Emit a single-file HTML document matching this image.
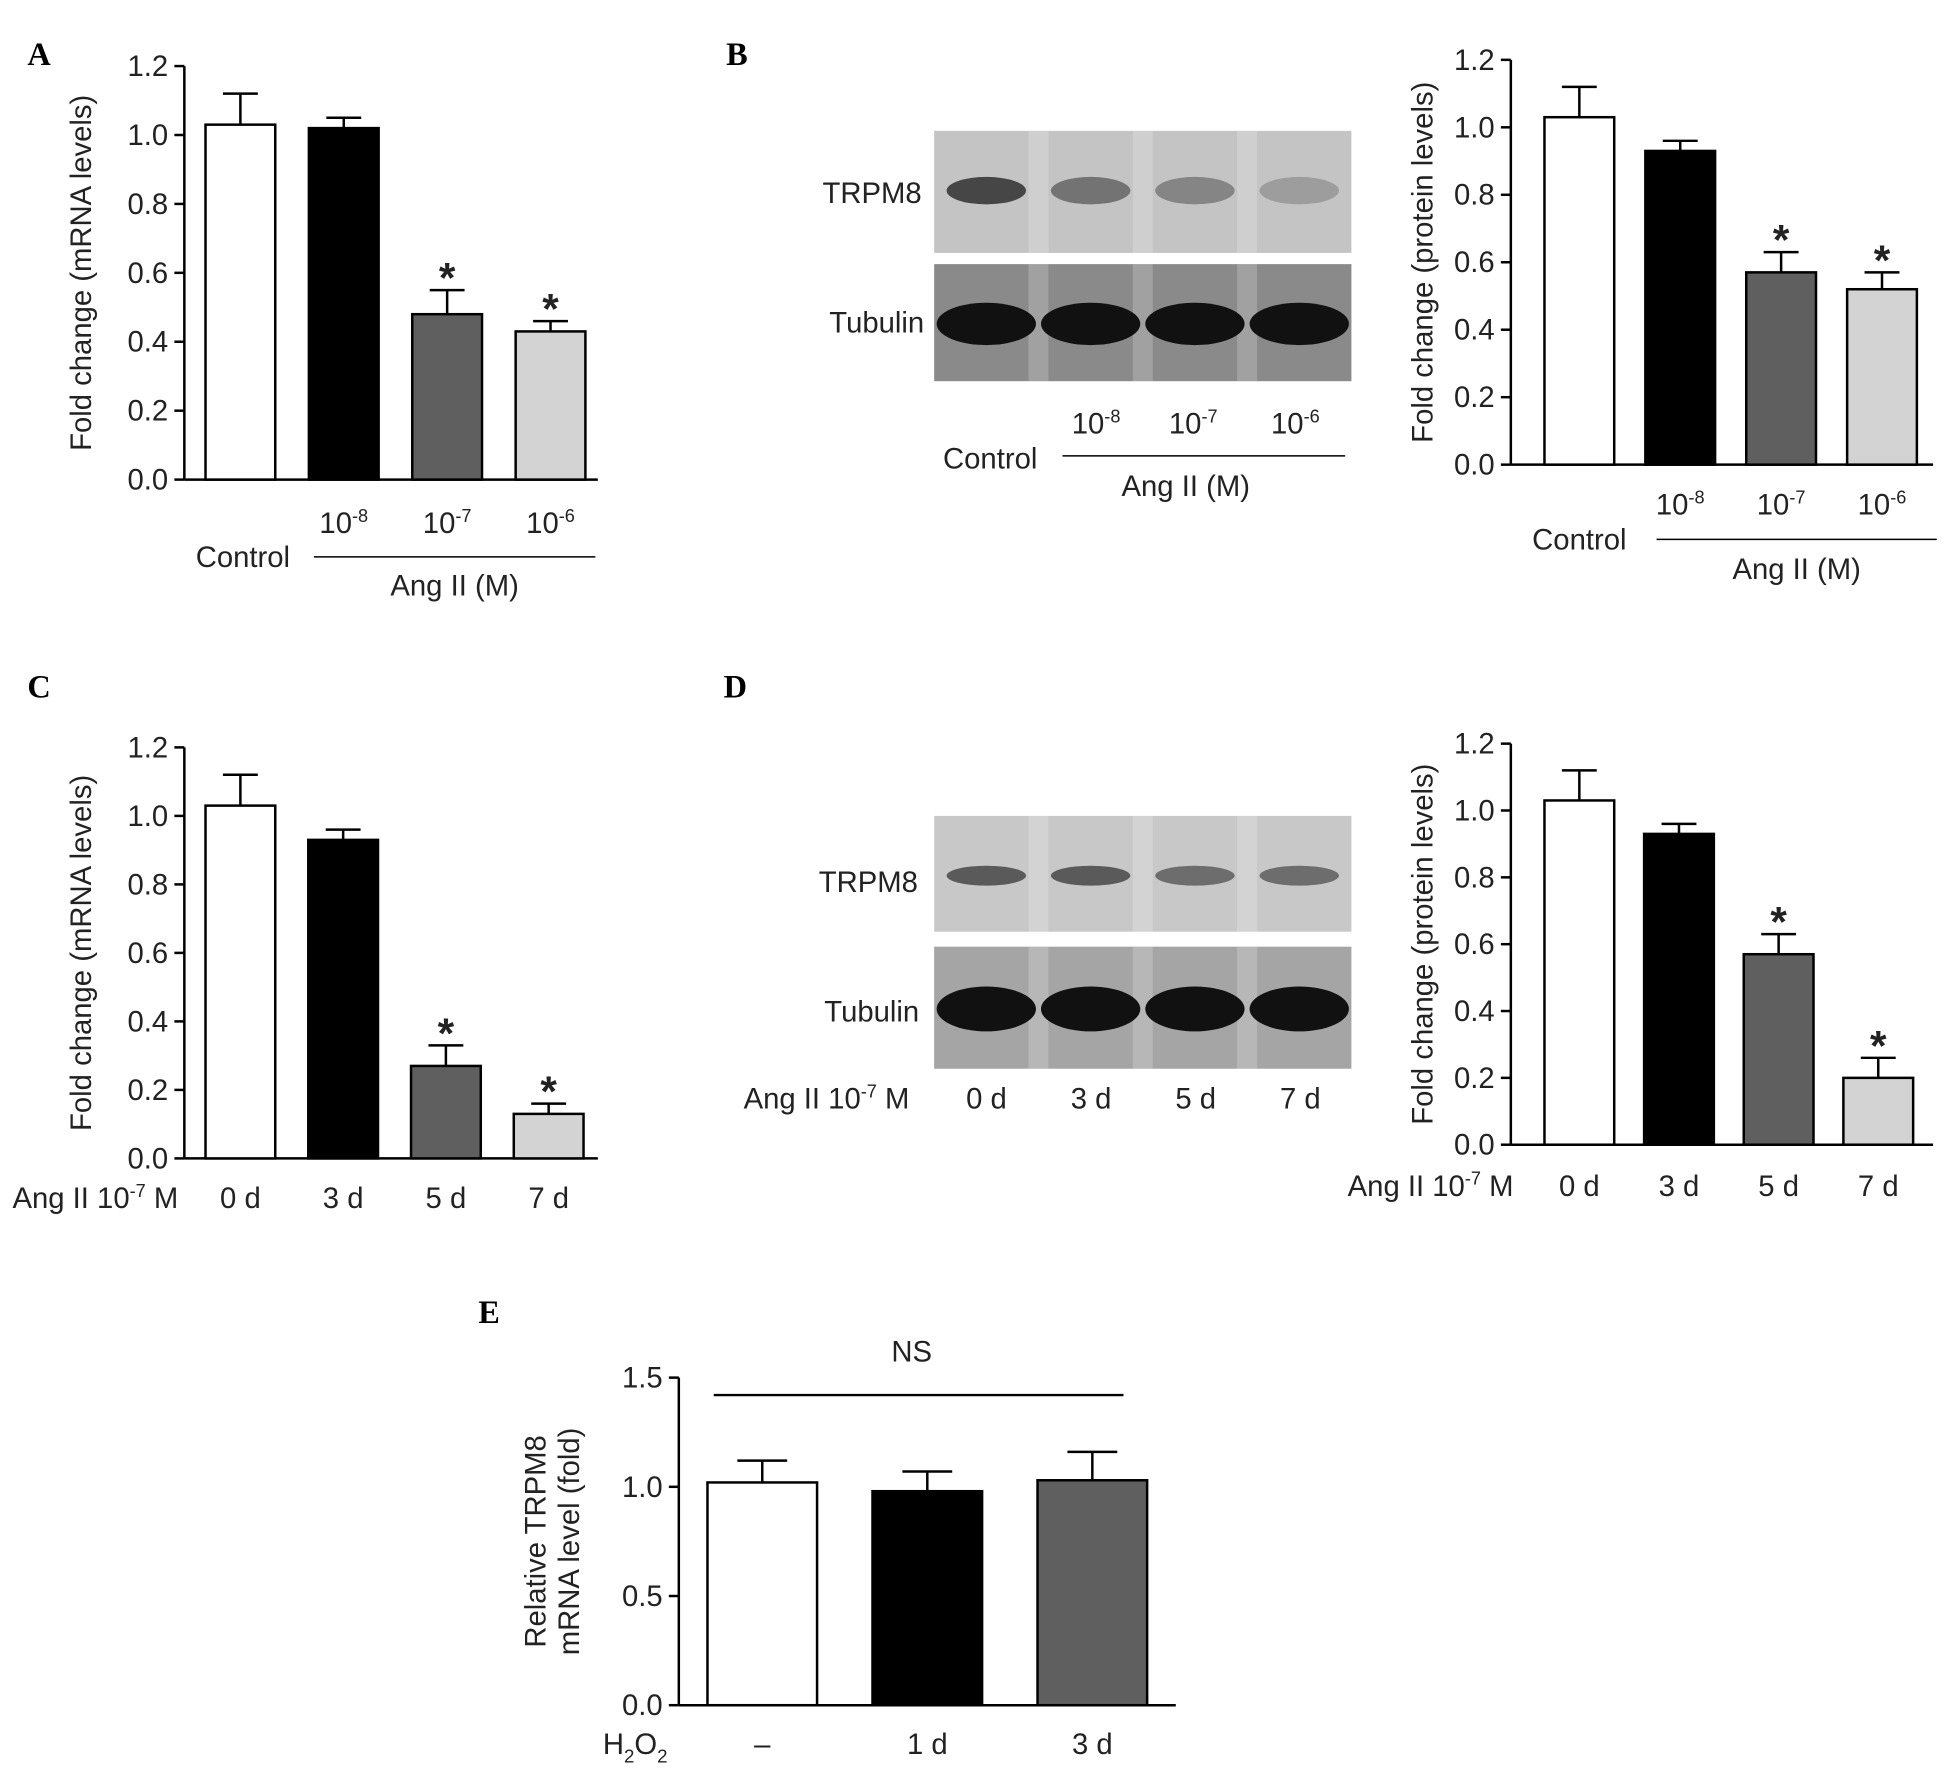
<!DOCTYPE html>
<html><head><meta charset="utf-8"><style>
html,body{margin:0;padding:0;background:#fff}
svg{display:block}
text{font-family:"Liberation Sans",Arial,sans-serif;fill:#222}
.pl{font-family:"Liberation Serif",serif;font-weight:bold;font-size:26px;fill:#000}
</style></head><body>
<svg id="fig" width="1953" height="1780" viewBox="0 0 1568 1429" xmlns="http://www.w3.org/2000/svg">
<text class="pl" x="22" y="52">A</text>
<text class="pl" x="583" y="52">B</text>
<text class="pl" x="22" y="560">C</text>
<text class="pl" x="581" y="560">D</text>
<text class="pl" x="384" y="1062">E</text>
<g id="blots"></g>
<g id="charts"></g>
</svg>
<script>
// ---- data ----
const catsAB = ["Control","10-8","10-7","10-6"];
const catsCD = ["0 d","3 d","5 d","7 d"];
const catsE = ["–","1 d","3 d"];
const valsA = [1.03,1.02,0.48,0.43];
const errA = [0.09,0.03,0.07,0.03];
const sigA = [false,false,true,true];
const valsB = [1.03,0.93,0.57,0.52];
const errB = [0.09,0.03,0.06,0.05];
const sigB = [false,false,true,true];
const valsC = [1.03,0.93,0.27,0.13];
const errC = [0.09,0.03,0.06,0.03];
const sigC = [false,false,true,true];
const valsD = [1.03,0.93,0.57,0.20];
const errD = [0.09,0.03,0.06,0.06];
const sigD = [false,false,true,true];
const valsE = [1.02,0.98,1.03];
const errE = [0.10,0.09,0.13];
const ticks12 = [0,0.2,0.4,0.6,0.8,1.0,1.2];
const ticks15 = [0,0.5,1.0,1.5];

const NS="http://www.w3.org/2000/svg";
const FS=23.5;
const charts=document.getElementById('charts');
function mk(tag,attrs,parent,txt){const e=document.createElementNS(NS,tag);for(const k in attrs)e.setAttribute(k,attrs[k]);if(txt!==undefined)e.textContent=txt;(parent||charts).appendChild(e);return e;}
const fills4=["#fff","#000","#5f5f5f","#d3d3d3"];

function chart(o){
  const g=mk('g',{});
  
  
  const y=v=>o.y0-(v/o.max)*(o.y0-o.ytop);
  const ax=mk('line',{x1:o.ax,y1:o.ytop,x2:o.ax,y2:o.y0,stroke:'#000','stroke-width':2},g);
  
  const xa=mk('line',{x1:o.ax,y1:o.y0,x2:o.xend,y2:o.y0,stroke:'#000','stroke-width':2},g);
  
  o.ticks.forEach(t=>{
    mk('line',{x1:o.ax-8,y1:y(t),x2:o.ax,y2:y(t),stroke:'#000','stroke-width':2},g);
    const tl=mk('text',{x:o.ax-13,y:y(t)+8,'text-anchor':'end','font-size':FS},g,t.toFixed(1));
    
  });
  const yt=mk('text',{transform:`translate(${o.ytx},${(o.ytop+o.y0)/2}) rotate(-90)`,'text-anchor':'middle','font-size':FS},g);
  
  o.ytitle.forEach((s,i)=>mk('tspan',{x:0,dy:i?27:0},yt,s));
  o.vals.forEach((v,i)=>{
    const x=o.x0+i*o.step, cx=x+o.bw/2;
    const top=y(v), et=y(v+o.err[i]);
    mk('line',{x1:cx,y1:et,x2:cx,y2:top,stroke:'#000','stroke-width':2},g);
    mk('line',{x1:cx-o.cap,y1:et,x2:cx+o.cap,y2:et,stroke:'#000','stroke-width':2},g);
    const b=mk('rect',{x:x,y:top,width:o.bw,height:o.y0-top,fill:o.fills[i],stroke:'#000','stroke-width':2},g);
    
    if(o.sig&&o.sig[i]){const s=mk('text',{x:cx,y:et+2,'text-anchor':'middle','font-size':34,'font-weight':'bold'},g,'*');
      }
  });
  return {g,y,cx:i=>o.x0+i*o.step+o.bw/2};
}
function sup(g,x,y,base,exp,size,anchor,after){
  const t=mk('text',{x:x,y:y,'font-size':size,'text-anchor':anchor||'middle'},g);
  mk('tspan',{},t,base);mk('tspan',{dy:-9,'font-size':size*0.62},t,exp);
  if(after) mk('tspan',{dy:9},t,after);
  
  return t;
}
function angLabels(g,c,yexp,ytitle,lineY,lineX1,lineX2,ctrlX){
  const ex=["-8","-7","-6"];
  for(let i=1;i<4;i++) sup(g,c.cx(i),yexp,"10",ex[i-1],FS);
  const ct=mk('text',{x:ctrlX,y:lineY+8,'text-anchor':'middle','font-size':FS},g,'Control');
  
  mk('line',{x1:lineX1,y1:lineY,x2:lineX2,y2:lineY,stroke:'#000','stroke-width':1.2},g);
  const at=mk('text',{x:(lineX1+lineX2)/2,y:ytitle,'text-anchor':'middle','font-size':FS},g,'Ang II (M)');
  
}

// A
let c=chart({name:'chart-a',ax:148,y0:385,ytop:53,max:1.2,xend:480,ticks:ticks12,vals:valsA,err:errA,sig:sigA,x0:165,step:83,bw:56,cap:14,fills:fills4,ytx:73,ytitle:['Fold change (mRNA levels)']});
angLabels(c.g,c,428,478,447,252,478,195);
// B
c=chart({name:'chart-b',ax:1213,y0:373,ytop:48,max:1.2,xend:1552,ticks:ticks12,vals:valsB,err:errB,sig:sigB,x0:1240,step:81,bw:56,cap:14,fills:fills4,ytx:1150,ytitle:['Fold change (protein levels)']});
angLabels(c.g,c,413,465,433,1330,1555,1268);
// C
c=chart({name:'chart-c',ax:148,y0:930,ytop:600,max:1.2,xend:480,ticks:ticks12,vals:valsC,err:errC,sig:sigC,x0:165,step:82.5,bw:56,cap:14,fills:fills4,ytx:73,ytitle:['Fold change (mRNA levels)']});
catsCD.forEach((s,i)=>{const t=mk('text',{x:c.cx(i),y:970,'text-anchor':'middle','font-size':FS},c.g,s);});
sup(c.g,10,970,"Ang II 10","-7",FS,'start',' M');
// D
c=chart({name:'chart-d',ax:1213,y0:919,ytop:597,max:1.2,xend:1552,ticks:ticks12,vals:valsD,err:errD,sig:sigD,x0:1240,step:80,bw:56,cap:14,fills:fills4,ytx:1150,ytitle:['Fold change (protein levels)']});
catsCD.forEach((s,i)=>{const t=mk('text',{x:c.cx(i),y:960,'text-anchor':'middle','font-size':FS},c.g,s);});
sup(c.g,1082,960,"Ang II 10","-7",FS,'start',' M');
// E
c=chart({name:'chart-e',ax:545,y0:1369,ytop:1106,max:1.5,xend:944,ticks:ticks15,vals:valsE,err:errE,x0:568,step:132.5,bw:88,cap:20,fills:["#fff","#000","#5f5f5f"],ytx:438,ytitle:['Relative TRPM8','mRNA level (fold)']});
catsE.forEach((s,i)=>{const t=mk('text',{x:c.cx(i),y:1408,'text-anchor':'middle','font-size':FS},c.g,s);});
const h=mk('text',{x:484,y:1408,'font-size':FS},c.g);mk('tspan',{},h,'H');mk('tspan',{dy:7,'font-size':15},h,'2');mk('tspan',{dy:-7},h,'O');mk('tspan',{dy:7,'font-size':15},h,'2');
mk('line',{x1:573,y1:1120,x2:902,y2:1120,stroke:'#000','stroke-width':2},c.g);
const ns=mk('text',{x:732,y:1093,'text-anchor':'middle','font-size':FS},c.g,'NS');


// ---- blots ----
const blots=document.getElementById('blots');
function blot(name,x,y,w,h,bg,lanes,bandY,bandH,intens,dark){
  const g=mk('g',{},blots);
  
  mk('rect',{x:x,y:y,width:w,height:h,fill:bg},g);
  const lw=w/4;
  for(let i=1;i<4;i++) mk('rect',{x:x+i*lw-8,y:y,width:16,height:h,fill:'#fff',opacity:0.2},g);
  intens.forEach((a,i)=>{
    mk('ellipse',{cx:x+lw*i+lw/2,cy:bandY,rx:lw/2-(dark?2:10),ry:bandH/2,fill:'#111',opacity:a},g);
  });
}
function blotLabel(x,y,s){const t=mk('text',{x:x,y:y,'text-anchor':'end','font-size':FS},blots,s);}
blot('blot-b-trpm8',750,105,335,98,'#c4c4c4',4,153,22,[0.7,0.45,0.35,0.22]);
blot('blot-b-tubulin',750,212,335,94,'#8a8a8a',4,260,34,[1,1,1,1],true);
blotLabel(740,163,'TRPM8');blotLabel(742,267,'Tubulin');
[["10","-8",880],["10","-7",958],["10","-6",1040]].forEach(a=>sup(blots,a[2],348,a[0],a[1],FS));
mk('text',{x:795,y:376,'text-anchor':'middle','font-size':FS},blots,'Control');
mk('line',{x1:853,y1:366,x2:1080,y2:366,stroke:'#000','stroke-width':1.2},blots);
mk('text',{x:952,y:398,'text-anchor':'middle','font-size':FS},blots,'Ang II (M)');
blot('blot-d-trpm8',750,655,335,93,'#c8c8c8',4,703,16,[0.6,0.6,0.5,0.5]);
blot('blot-d-tubulin',750,760,335,98,'#a5a5a5',4,810,36,[1,1,1,1],true);
blotLabel(737,716,'TRPM8');blotLabel(738,820,'Tubulin');
catsCD.forEach((s,i)=>mk('text',{x:792+i*84,y:890,'text-anchor':'middle','font-size':FS},blots,s));
sup(blots,597,890,"Ang II 10","-7",FS,'start',' M');
</script>
</body></html>
